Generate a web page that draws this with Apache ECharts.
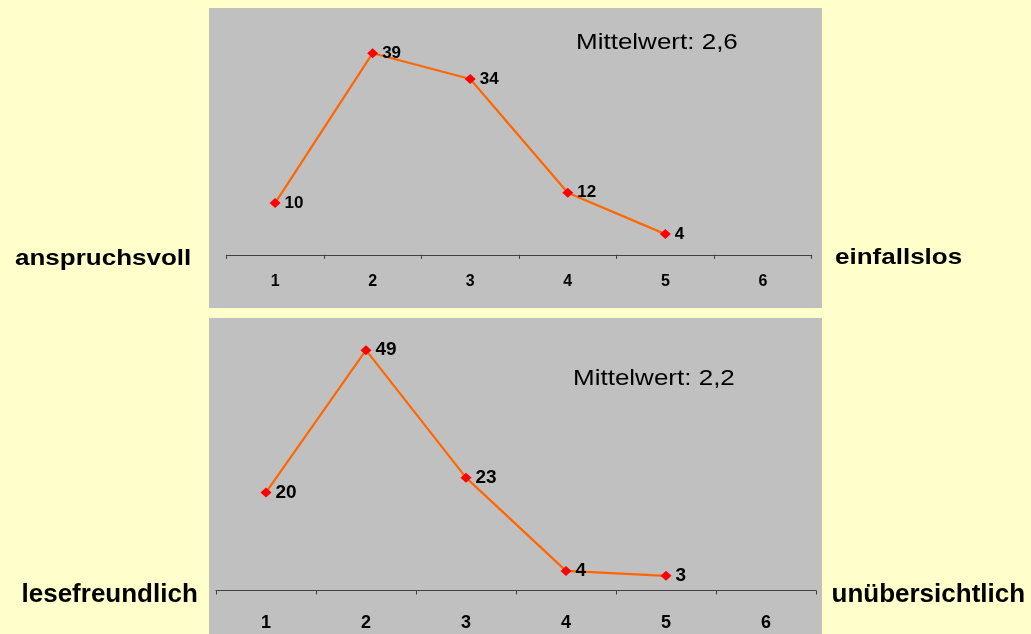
<!DOCTYPE html>
<html>
<head>
<meta charset="utf-8">
<script src="https://cdn.jsdelivr.net/npm/echarts@6/dist/echarts.min.js"></script>
<style>
  html, body { margin: 0; padding: 0; background: #FFFFCC; }
  #chart { width: 1031px; height: 634px; }
</style>
</head>
<body>
<div id="chart"></div>
<script>
// Scale points 1..6 shared by both ratings
const categories = ['1', '2', '3', '4', '5', '6'];

// Answer counts per scale point
const topValues = [10, 39, 34, 12, 4];
const bottomValues = [20, 49, 23, 4, 3];

// Mean values as printed (German decimal comma)
const topMean = '2,6';
const bottomMean = '2,2';

// Pole labels on either side of each scale
const topPoles = ['anspruchsvoll', 'einfallslos'];
const bottomPoles = ['lesefreundlich', 'unübersichtlich'];

const FONT = '"Liberation Sans", Arial, Helvetica, sans-serif';

const chart = echarts.init(document.getElementById('chart'), null, { renderer: 'canvas' });

function textEl(x, y, text, size, weight, scaleY, align) {
  return {
    type: 'text',
    x: x, y: y,
    scaleY: scaleY,
    z: 10,
    style: {
      text: text,
      x: 0, y: 0,
      font: weight + ' ' + size + 'px ' + FONT,
      fill: '#000000',
      align: align || 'left',
      verticalAlign: 'middle'
    }
  };
}

function lineSeries(idx, values, labelSize) {
  return {
    type: 'line',
    xAxisIndex: idx,
    yAxisIndex: idx,
    data: values,
    symbol: 'diamond',
    symbolSize: [11, 10],
    showAllSymbol: true,
    lineStyle: { color: '#FF6600', width: 2.2 },
    itemStyle: { color: '#FF0000' },
    label: {
      show: true,
      position: 'right',
      distance: 4,
      color: '#000000',
      fontFamily: FONT,
      fontWeight: 'bold',
      fontSize: labelSize
    },
    emphasis: { disabled: true },
    animation: false,
    z: 5
  };
}

function catAxis(idx, labelSize, margin) {
  return {
    type: 'category',
    gridIndex: idx,
    data: categories,
    boundaryGap: true,
    axisLine: { show: true, lineStyle: { color: '#404040', width: 1 } },
    axisTick: { show: true, length: 4, inside: false, lineStyle: { color: '#404040' } },
    axisLabel: {
      color: '#000000',
      fontFamily: FONT,
      fontWeight: 'bold',
      fontSize: labelSize,
      margin: margin
    },
    splitLine: { show: false }
  };
}

function valAxis(idx, max) {
  return {
    type: 'value',
    gridIndex: idx,
    min: 0,
    max: max,
    show: false,
    splitLine: { show: false }
  };
}

const option = {
  backgroundColor: '#FFFFCC',
  animation: false,
  grid: [
    { left: 226.3, top: 22.2, width: 585.4, height: 232.6 },
    { left: 216, top: 320.7, width: 600, height: 269.8 }
  ],
  xAxis: [catAxis(0, 16, 19), catAxis(1, 18, 24)],
  yAxis: [valAxis(0, 45), valAxis(1, 55)],
  series: [lineSeries(0, topValues, 17), lineSeries(1, bottomValues, 19)],
  graphic: [
    // grey plot panels
    { type: 'rect', z: -10, shape: { x: 209, y: 8, width: 613, height: 300 }, style: { fill: '#C0C0C0' } },
    { type: 'rect', z: -10, shape: { x: 209, y: 318, width: 613, height: 320 }, style: { fill: '#C0C0C0' } },
    // mean values
    textEl(576, 42.5, 'Mittelwert: ' + topMean, 26, 'normal', 0.86),
    textEl(573, 378.5, 'Mittelwert: ' + bottomMean, 26, 'normal', 0.86),
    // pole labels
    textEl(15, 259, topPoles[0], 26, 'bold', 0.88),
    textEl(835, 258, topPoles[1], 26, 'bold', 0.88),
    textEl(21.5, 595, bottomPoles[0], 26, 'bold', 1),
    textEl(831.5, 595, bottomPoles[1], 26, 'bold', 1)
  ]
};

chart.setOption(option);
</script>
</body>
</html>
